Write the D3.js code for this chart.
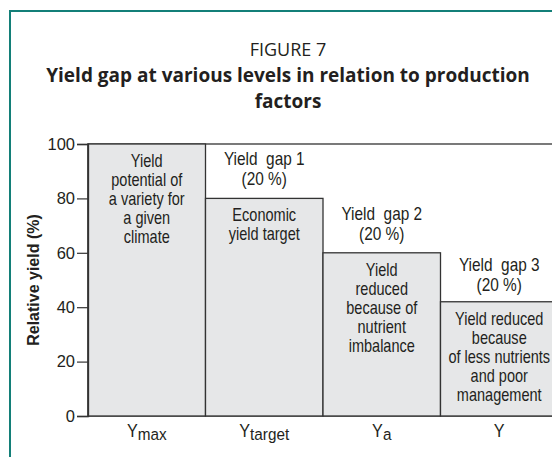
<!DOCTYPE html>
<html>
<head>
<meta charset="utf-8">
<script src="https://cdn.jsdelivr.net/npm/d3@7"></script>
<style>
  html, body { margin: 0; padding: 0; background: #fff; }
  svg { display: block; }
  text { fill: #231f20; }
</style>
</head>
<body>
<svg id="chart" width="552" height="457"></svg>
<script>
// データ
const categories = ["Ymax", "Ytarget", "Ya", "Y"];
const labelMain = ["Y", "Y", "Y", "Y"];
const labelSub = ["max", "target", "a", ""];
const values = [100, 80, 60, 42];
const yTicks = [0, 20, 40, 60, 80, 100];
const barNotes = [
  ["Yield", "potential of", "a variety for", "a given", "climate"],
  ["Economic", "yield target"],
  ["Yield", "reduced", "because of", "nutrient", "imbalance"],
  ["Yield reduced", "because", "of less nutrients", "and poor", "management"]
];
const gapNotes = [
  null,
  ["Yield  gap 1", "(20 %)"],
  ["Yield  gap 2", "(20 %)"],
  ["Yield  gap 3", "(20 %)"]
];

const svg = d3.select("#chart");
const narrow = "'Liberation Sans', Arial, sans-serif";

// 枠
svg.append("rect")
  .attr("x", 10).attr("y", 11)
  .attr("width", 600).attr("height", 500)
  .attr("fill", "none")
  .attr("stroke", "#137f78")
  .attr("stroke-width", 2);

// タイトル
svg.append("text")
  .attr("x", 288).attr("y", 56)
  .attr("text-anchor", "middle")
  .style("font-family", "'Open Sans', sans-serif")
  .style("font-size", "18px")
  .text("FIGURE 7");

const titleLines = ["Yield gap at various levels in relation to production", "factors"];
svg.selectAll(".title")
  .data(titleLines)
  .enter()
  .append("text")
  .attr("class", "title")
  .attr("x", 288)
  .attr("y", (d, i) => 82 + i * 26)
  .attr("text-anchor", "middle")
  .style("font-family", "'Open Sans', sans-serif")
  .style("font-weight", "bold")
  .style("font-size", "19px")
  .text(d => d);

// スケール
const x = d3.scaleBand().domain(categories).range([88, 558]).padding(0);
const y = d3.scaleLinear().domain([0, 100]).range([416, 144]);

// 外枠（白）
svg.append("rect")
  .attr("x", x.range()[0])
  .attr("y", y(100))
  .attr("width", x.range()[1] - x.range()[0])
  .attr("height", y(0) - y(100))
  .attr("fill", "#fff")
  .attr("stroke", "#333")
  .attr("stroke-width", 1.3);

// 棒
svg.selectAll(".bar")
  .data(values)
  .enter()
  .append("rect")
  .attr("class", "bar")
  .attr("x", (d, i) => x(categories[i]))
  .attr("y", d => y(d))
  .attr("width", x.bandwidth())
  .attr("height", d => y(0) - y(d))
  .attr("fill", "#e6e7e8")
  .attr("stroke", "#333")
  .attr("stroke-width", 1.3);

// 棒の中のテキスト
barNotes.forEach((lines, i) => {
  const cx = x(categories[i]) + x.bandwidth() / 2;
  lines.forEach((t, j) => {
    svg.append("text")
      .attr("transform", `translate(${cx}, ${y(values[i]) + 23 + j * 19}) scale(0.83, 1)`)
      .attr("text-anchor", "middle")
      .style("font-family", narrow)
      .style("font-size", "17.5px")
      .text(t);
  });
});

// ギャップのラベル
gapNotes.forEach((lines, i) => {
  if (!lines) return;
  const cx = x(categories[i]) + x.bandwidth() / 2;
  const mid = (y(values[i - 1]) + y(values[i])) / 2;
  lines.forEach((t, j) => {
    svg.append("text")
      .attr("transform", `translate(${cx}, ${mid - 6 + j * 20}) scale(0.88, 1)`)
      .attr("text-anchor", "middle")
      .style("font-family", narrow)
      .style("font-size", "17.5px")
      .style("white-space", "pre")
      .text(t);
  });
});

// Y軸
const yAxis = svg.append("g")
  .attr("transform", `translate(${x.range()[0]}, 0)`)
  .call(d3.axisLeft(y).tickValues(yTicks).tickSize(11).tickPadding(2));
yAxis.select(".domain").attr("stroke", "#333").attr("stroke-width", 1.3);
yAxis.selectAll(".tick line").attr("stroke", "#333").attr("stroke-width", 1.2);
yAxis.selectAll(".tick text")
  .attr("fill", "#231f20")
  .style("font-family", narrow)
  .style("font-size", "16.5px");

// Y軸タイトル
svg.append("text")
  .attr("transform", `translate(39, ${(y(0) + y(100)) / 2}) rotate(-90)`)
  .attr("text-anchor", "middle")
  .style("font-family", narrow)
  .style("font-weight", "bold")
  .style("font-size", "16px")
  .text("Relative yield (%)");

// X軸ラベル
const xl = svg.selectAll(".xlabel")
  .data(categories)
  .enter()
  .append("text")
  .attr("class", "xlabel")
  .attr("transform", d => `translate(${x(d) + x.bandwidth() / 2}, 437) scale(0.9, 1)`)
  .attr("text-anchor", "middle")
  .style("font-family", narrow)
  .style("font-size", "18px");
xl.append("tspan").text((d, i) => labelMain[i]);
xl.append("tspan")
  .attr("dy", 3)
  .style("font-size", "17px")
  .text((d, i) => labelSub[i]);
</script>
</body>
</html>
